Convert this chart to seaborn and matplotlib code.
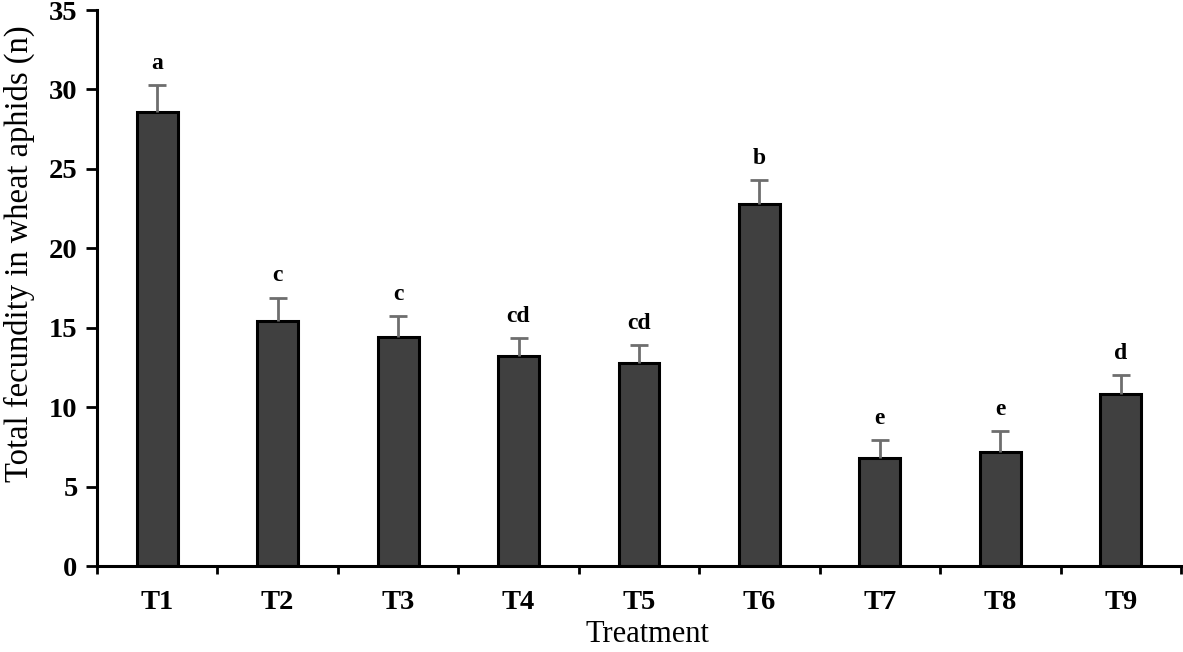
import matplotlib
matplotlib.use("Agg")
import matplotlib.pyplot as plt
import seaborn as sns
import pandas as pd
import numpy as np

treatments = ["T1", "T2", "T3", "T4", "T5", "T6", "T7", "T8", "T9"]
fecundity = [28.6, 15.4, 14.4, 13.2, 12.8, 22.8, 6.8, 7.2, 10.8]
std_err = [1.65, 1.5, 1.35, 1.15, 1.1, 1.5, 1.15, 1.3, 1.2]
letters = ["a", "c", "c", "cd", "cd", "b", "e", "e", "d"]

sns.set_style("ticks")
plt.rcParams['font.family'] = ['Liberation Serif', 'DejaVu Serif']
plt.rcParams['text.color'] = 'black'
plt.rcParams['axes.labelcolor'] = 'black'
plt.rcParams['xtick.color'] = 'black'
plt.rcParams['ytick.color'] = 'black'

df = pd.DataFrame({"Treatment": treatments, "Fecundity": fecundity})

fig = plt.figure(figsize=(11.83, 6.52), dpi=100)
ax = fig.add_axes([97/1183, 1-566/652, (1181-97)/1183, (566-10)/652])

sns.barplot(data=df, x="Treatment", y="Fecundity", color="#404040",
            edgecolor="black", linewidth=2.2, width=0.34, saturation=1,
            errorbar=None, ax=ax, zorder=2)

xpos = np.arange(len(treatments))
eb = ax.errorbar(xpos, fecundity, yerr=[np.zeros(len(std_err)), std_err],
                 fmt="none", ecolor="#6e6e6e", elinewidth=2, capsize=6.5,
                 capthick=2, zorder=3)
eb[1][0].set_visible(False)

for x, v, e, t in zip(xpos, fecundity, std_err, letters):
    ax.text(x, v + e + 0.7, t, ha="center", va="bottom", fontsize=17,
            fontweight="bold", color="black")

ax.set_xlim(-0.5, 8.5)
ax.set_ylim(0, 35)
ax.set_yticks(np.arange(0, 36, 5))
ax.set_xticks(xpos)
ax.set_xticklabels(treatments, fontweight="bold", fontsize=20.5)
ax.set_xticks(np.arange(-0.5, 9, 1), minor=True)
ax.tick_params(axis="x", which="major", length=0, pad=17)
ax.tick_params(axis="x", which="minor", length=6, width=2, direction="out", color="black")
ax.tick_params(axis="y", length=8, width=2, direction="out", pad=6, labelsize=20.5, color="black")
for lab in ax.get_yticklabels():
    lab.set_fontweight("bold")

for s in ["top", "right"]:
    ax.spines[s].set_visible(False)
for s in ["left", "bottom"]:
    ax.spines[s].set_linewidth(2.2)
    ax.spines[s].set_color("black")

ax.set_xlabel("Treatment", fontsize=22)
ax.xaxis.set_label_coords(0.508, -0.098)
ax.set_ylabel("Total fecundity in wheat aphids (n)", fontsize=23.5)
ax.yaxis.set_label_coords(-0.057, 0.561)

fig.savefig("out.png", dpi=100)
